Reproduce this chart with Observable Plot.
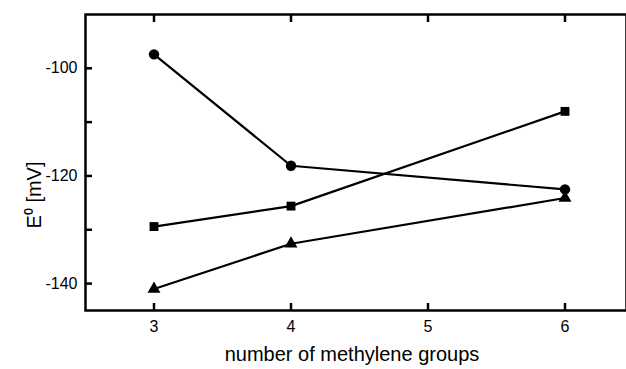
<!DOCTYPE html>
<html><head><meta charset="utf-8">
<script src="https://cdn.jsdelivr.net/npm/d3@7"></script>
<script src="https://cdn.jsdelivr.net/npm/@observablehq/plot@0.6"></script>
<style>
html,body{margin:0;padding:0;background:#fff;overflow:hidden;}
#chart svg{font-family:"Liberation Sans",Arial,sans-serif;}
</style></head><body><div id="chart"></div>
<script>
const xValues = [3, 4, 6];
const circleSeries = [-97.4, -118.1, -122.5];
const squareSeries = [-129.4, -125.6, -108.0];
const triangleSeries = [-141.0, -132.6, -124.1];
const xTicks = [3, 4, 5, 6];
const yMajorTicks = [-100, -120, -140];
const yMinorTicks = [-110, -130];
const xTitle = "number of methylene groups";
const yTitle = "E⁰ [mV]";

const seriesDefs = [
  {name: "circle", values: circleSeries},
  {name: "square", values: squareSeries},
  {name: "triangle", values: triangleSeries}
];
const data = seriesDefs.flatMap(s => xValues.map((x, i) => ({series: s.name, x, y: s.values[i]})));

const plot = Plot.plot({
  width: 626,
  height: 369,
  marginLeft: 85,
  marginTop: 14,
  marginBottom: 59,
  marginRight: 0,
  style: {fontFamily: "Liberation Sans, Arial, sans-serif", color: "black", background: "white"},
  x: {domain: [2.5, 6.5], range: [85, 633]},
  y: {domain: [-145, -90]},
  marks: [
    Plot.frame({stroke: "black", strokeWidth: 2.5}),
    // inward ticks
    Plot.axisY([...yMajorTicks, ...yMinorTicks], {tickSize: 7, dx: 7, strokeWidth: 2.5, tickFormat: () => "", label: null}),
    Plot.axisX(xTicks, {tickSize: 7, dy: -7, strokeWidth: 2.5, tickFormat: () => "", label: null}),
    Plot.axisX(xTicks, {anchor: "top", tickSize: 7, dy: 7, strokeWidth: 2.5, tickFormat: () => "", label: null}),
    // labels
    Plot.axisY(yMajorTicks, {tickSize: 0, tickPadding: 8, fontSize: 16, tickFormat: d => String(d), label: null}),
    Plot.axisX(xTicks, {tickSize: 0, tickPadding: 10, fontSize: 16, tickFormat: d => String(d), label: null}),
    Plot.line(data, {x: "x", y: "y", z: "series", stroke: "black", strokeWidth: 2.2}),
    Plot.dot(data.filter(d => d.series === "circle"), {x: "x", y: "y", r: 5.2, symbol: "circle", fill: "black"}),
    Plot.dot(data.filter(d => d.series === "square"), {x: "x", y: "y", r: 5, symbol: "square", fill: "black"}),
    Plot.dot(data.filter(d => d.series === "triangle"), {x: "x", y: "y", r: 4.8, symbol: "triangle", fill: "black"}),
    Plot.text([xTitle], {text: d => d, frameAnchor: "bottom", dy: 50, dx: -4, fontSize: 20, fill: "black"}),
    Plot.text([yTitle], {text: d => d, frameAnchor: "bottom-left", textAnchor: "start", rotate: -90, dx: -45, dy: -82, fontSize: 20, fill: "black"})
  ]
});
document.getElementById("chart").appendChild(plot);
</script></body></html>
